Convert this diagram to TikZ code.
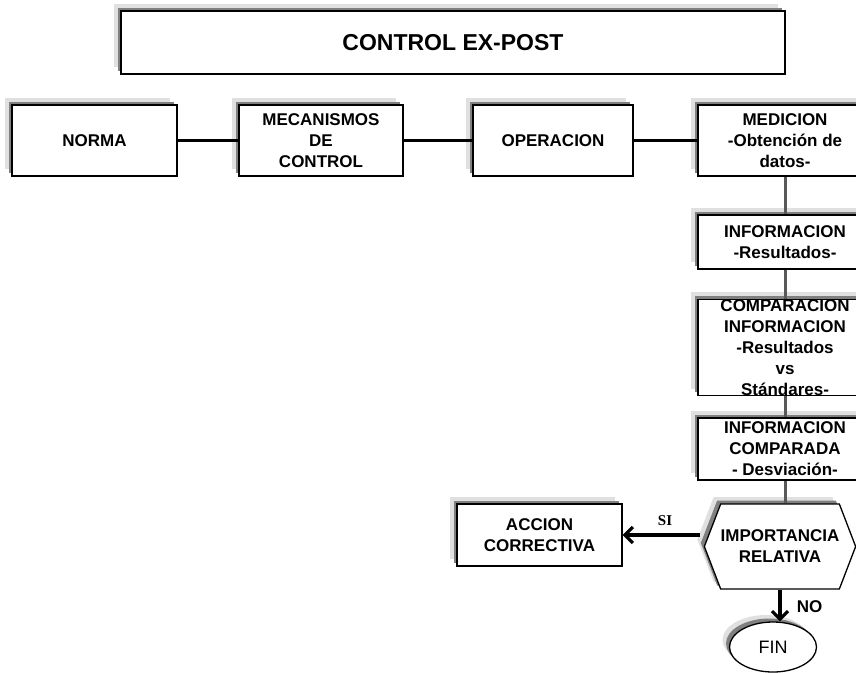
\documentclass[tikz,border=0pt]{standalone}
\usepackage{fontspec}
\setmainfont{Liberation Sans}
\newfontfamily\serifbf{Liberation Serif}
\usetikzlibrary{shapes.geometric,shapes.symbols,shadows,arrows.meta}
\tikzset{
  sombra/.style={general shadow={fill=black!12,shadow xshift=-7pt,shadow yshift=7pt},
    general shadow={fill=black!50,shadow xshift=-3.5pt,shadow yshift=3.5pt}},
  caja/.style={draw,line width=1.3pt,fill=white,sombra,align=center,inner sep=0pt,
    font=\bfseries\fontsize{17}{21}\selectfont},
  linea/.style={line width=3.8pt},
  vlinea/.style={line width=3pt,draw=black!65},
  flecha/.style={line width=3.2pt,-{Straight Barb[length=8pt,width=16pt]}}
}
\begin{document}
\begin{tikzpicture}[x=1pt,y=-1pt, line join=miter]
  \useasboundingbox (0,0) rectangle (856,672);
  \clip (0,0) rectangle (856,672);
  % titulo
  \node[caja,minimum width=664,minimum height=63,font=\bfseries\fontsize{23}{27}\selectfont] (titulo) at (453,42.5) {CONTROL EX-POST};
  % fila superior
  \node[caja,minimum width=165,minimum height=71] (norma) at (94.5,140.5) {NORMA};
  \node[caja,minimum width=164,minimum height=71] (mec) at (321,140.5) {MECANISMOS\\DE\\CONTROL};
  \node[caja,minimum width=160,minimum height=71] (oper) at (553,140.5) {OPERACION};
  \node[caja,minimum width=174,minimum height=71] (med) at (785,140.5) {MEDICION\\-Obtención de\\datos-};
  % columna derecha
  \node[caja,minimum width=174,minimum height=54] (inf) at (785,242) {INFORMACION\\-Resultados-};
  \node[caja,minimum width=174,minimum height=91] (comp) at (785,347.5) {COMPARACION\\INFORMACION\\-Resultados\\vs\\Stándares-};
  \node[caja,minimum width=174,minimum height=62] (infc) at (785,449) {INFORMACION\\COMPARADA\\- Desviación-};
  \node[caja,signal,signal to=west and east,signal pointer angle=138,inner xsep=0pt,
        minimum width=149,minimum height=85] (imp) at (780,546.5) {IMPORTANCIA\\RELATIVA};
  \node[caja,minimum width=165,minimum height=62] (acc) at (539.5,535) {ACCION\\CORRECTIVA};
  \node[caja,ellipse,minimum width=87,minimum height=50,font=\fontsize{18}{21}\selectfont] (fin) at (773,647) {FIN};
  % conectores
  \draw[linea] (norma) -- (mec);
  \draw[linea] (mec) -- (oper);
  \draw[linea] (oper) -- (med);
  \foreach \a/\b in {med/inf,inf/comp,comp/infc}
    \draw[vlinea] (\a.south) -- (\b.north);
  \draw[vlinea] (infc.south) -- (infc.south |- imp.north);
  \draw[flecha] ([xshift=-4pt]imp.west |- acc.east) -- (acc.east) node[pos=.45,above=4pt,font=\serifbf\bfseries\fontsize{15}{18}\selectfont] (si) {SI};
  \draw[flecha] (imp.south) -- (imp.south |- fin.north) node[pos=.55,right=12pt,font=\bfseries\fontsize{17}{20}\selectfont] (no) {NO};
\end{tikzpicture}
\end{document}
